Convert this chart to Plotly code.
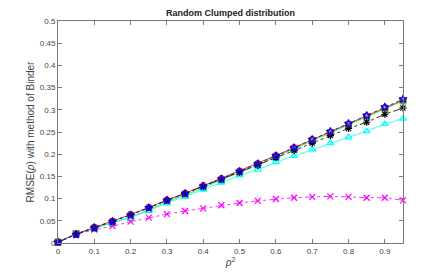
import plotly.graph_objects as go

x = [0, 0.05, 0.1, 0.15, 0.2, 0.25, 0.3, 0.35, 0.4, 0.45, 0.5, 0.55, 0.6, 0.65, 0.7, 0.75, 0.8, 0.85, 0.9, 0.95]

red = [0.002, 0.020, 0.035, 0.049, 0.064, 0.080, 0.097, 0.112, 0.129, 0.145, 0.162, 0.179, 0.197, 0.215, 0.233, 0.250, 0.268, 0.286, 0.305, 0.322]
blue = [0.002, 0.019, 0.034, 0.048, 0.063, 0.079, 0.096, 0.111, 0.128, 0.144, 0.161, 0.178, 0.196, 0.214, 0.233, 0.251, 0.269, 0.287, 0.306, 0.324]
green = [0.002, 0.021, 0.033, 0.045, 0.058, 0.075, 0.093, 0.108, 0.125, 0.141, 0.158, 0.176, 0.194, 0.212, 0.230, 0.248, 0.266, 0.284, 0.302, 0.320]
black = [0.002, 0.020, 0.035, 0.049, 0.064, 0.080, 0.096, 0.111, 0.127, 0.143, 0.159, 0.175, 0.192, 0.208, 0.225, 0.242, 0.258, 0.272, 0.290, 0.304]
cyan = [0.002, 0.022, 0.034, 0.046, 0.058, 0.073, 0.090, 0.105, 0.120, 0.136, 0.152, 0.165, 0.182, 0.196, 0.211, 0.225, 0.238, 0.252, 0.268, 0.280]
magenta = [0.002, 0.020, 0.030, 0.038, 0.048, 0.057, 0.065, 0.072, 0.078, 0.085, 0.090, 0.095, 0.099, 0.102, 0.104, 0.105, 0.104, 0.102, 0.102, 0.096]

xticks = [0, 0.1, 0.2, 0.3, 0.4, 0.5, 0.6, 0.7, 0.8, 0.9]
yticks = [0, 0.05, 0.1, 0.15, 0.2, 0.25, 0.3, 0.35, 0.4, 0.45, 0.5]

series = [
    ("green", green, "#00ff00", "solid", "square-open"),
    ("cyan", cyan, "#00ffff", "solid", "triangle-up-open"),
    ("magenta", magenta, "#ff00ff", "dashdot", "x-thin-open"),
    ("black", black, "#000000", "dashdot", "asterisk-open"),
    ("red", red, "#ff0000", "solid", "circle-open"),
    ("blue", blue, "#0000ff", "dot", "star-open"),
]

fig = go.Figure()
for name, ys, col, dash, sym in series:
    fig.add_trace(go.Scatter(
        x=x, y=ys, mode="lines+markers", name=name,
        line=dict(color=col, width=0.8, dash=dash),
        marker=dict(symbol=sym, size=6, color=col, line=dict(color=col, width=1.2)),
        showlegend=False, cliponaxis=False,
    ))

FONT = "Liberation Sans, Arial"
axis_common = dict(
    showgrid=False, zeroline=False, showline=True, mirror="ticks", automargin=False,
    linecolor="#7a7a7a", linewidth=1, ticks="inside", ticklen=4,
    tickcolor="#7a7a7a", tickfont=dict(size=8, color="#444", family=FONT),
)

fig.update_layout(
    width=445, height=274,
    margin=dict(l=58, r=42, t=21, b=31, autoexpand=False),
    paper_bgcolor="white", plot_bgcolor="white",
    title=dict(text="<b>Random Clumped distribution</b>", x=(58 + 403) / 2 / 445, xanchor="center",
               xref="container", yref="container", automargin=False,
               y=1 - 13 / 274, yanchor="middle", font=dict(size=9, color="#222", family=FONT)),
    xaxis=dict(range=[0, 0.95], tickvals=xticks, ticktext=[("%g" % v) for v in xticks],
               title=dict(text="<i>ρ</i><sup>2</sup>", font=dict(size=10, color="#444", family=FONT), standoff=4),
               **axis_common),
    yaxis=dict(range=[0, 0.5], tickvals=yticks, ticktext=[("%g" % v) for v in yticks],
               title=dict(text="RMSE(<i>ρ</i>) with method of Binder", font=dict(size=10, color="#444", family=FONT), standoff=3),
               **axis_common),
)

fig.write_html("out.html", config={"displayModeBar": False},
               post_script="document.body.style.margin='0';document.body.style.overflow='hidden';")
